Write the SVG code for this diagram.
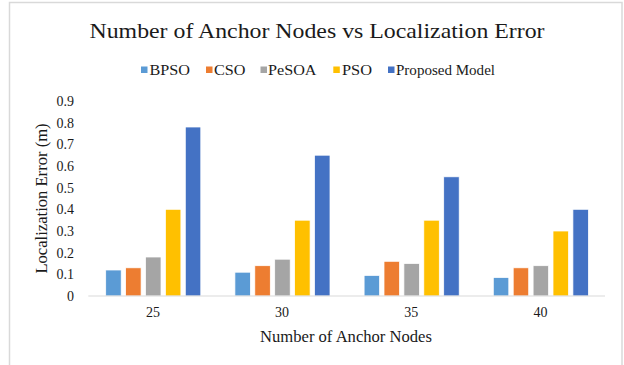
<svg xmlns="http://www.w3.org/2000/svg" width="624" height="365" viewBox="0 0 624 365">
<style>
text{font-family:"Liberation Serif","Times New Roman",serif;fill:#1a1a1a}
.tick{font-size:14px;text-anchor:end}
.xt{font-size:14px;text-anchor:middle}
.lg{font-size:14.5px}
.b{stroke:#ffffff;stroke-width:0.75}
.c1{fill:#5B9BD5}.c2{fill:#ED7D31}.c3{fill:#A5A5A5}.c4{fill:#FFC000}.c5{fill:#4472C4}
</style>
<rect x="9.5" y="2.5" width="612.5" height="370" fill="#ffffff" stroke="#d9d9d9" stroke-width="1.5"/>
<g id="title"><text x="317" y="38" font-size="22" text-anchor="middle" textLength="455" lengthAdjust="spacingAndGlyphs">Number of Anchor Nodes vs Localization Error</text></g>
<g id="legend">
<rect class="c1" x="141" y="66.5" width="6.5" height="6.5"/><text class="lg" x="149.5" y="74.5" textLength="40.5" lengthAdjust="spacingAndGlyphs">BPSO</text>
<rect class="c2" x="206" y="66.5" width="6.5" height="6.5"/><text class="lg" x="214" y="74.5" textLength="31.5" lengthAdjust="spacingAndGlyphs">CSO</text>
<rect class="c3" x="260.5" y="66.5" width="6.5" height="6.5"/><text class="lg" x="268" y="74.5" textLength="48.5" lengthAdjust="spacingAndGlyphs">PeSOA</text>
<rect class="c4" x="333.3" y="66.5" width="6.5" height="6.5"/><text class="lg" x="342" y="74.5" textLength="30" lengthAdjust="spacingAndGlyphs">PSO</text>
<rect class="c5" x="388" y="66.5" width="6.5" height="6.5"/><text class="lg" x="396" y="74.5" textLength="99" lengthAdjust="spacingAndGlyphs">Proposed Model</text>
</g>
<g id="y-axis">
<text class="tick" x="74" y="301">0</text>
<text class="tick" x="74" y="279.3">0.1</text>
<text class="tick" x="74" y="257.7">0.2</text>
<text class="tick" x="74" y="236">0.3</text>
<text class="tick" x="74" y="214.3">0.4</text>
<text class="tick" x="74" y="192.7">0.5</text>
<text class="tick" x="74" y="171">0.6</text>
<text class="tick" x="74" y="149.3">0.7</text>
<text class="tick" x="74" y="127.7">0.8</text>
<text class="tick" x="74" y="106">0.9</text>
<text x="0" y="0" font-size="16.6" text-anchor="middle" transform="translate(47,198.5) rotate(-90)">Localization Error (m)</text>
</g>
<g id="bars-25">
<rect class="b c1" x="105.7" y="270" width="15.5" height="26"/>
<rect class="b c2" x="125.6" y="267.8" width="15.5" height="28.2"/>
<rect class="b c3" x="145.5" y="257" width="15.5" height="39"/>
<rect class="b c4" x="165.4" y="209.3" width="15.5" height="86.7"/>
<rect class="b c5" x="185.3" y="127" width="15.5" height="169"/>
</g>
<g id="bars-30">
<rect class="b c1" x="234.9" y="272.2" width="15.5" height="23.8"/>
<rect class="b c2" x="254.8" y="265.7" width="15.5" height="30.3"/>
<rect class="b c3" x="274.7" y="259.2" width="15.5" height="36.8"/>
<rect class="b c4" x="294.6" y="220.2" width="15.5" height="75.8"/>
<rect class="b c5" x="314.5" y="155.2" width="15.5" height="140.8"/>
</g>
<g id="bars-35">
<rect class="b c1" x="364.1" y="275.4" width="15.5" height="20.6"/>
<rect class="b c2" x="384" y="261.3" width="15.5" height="34.7"/>
<rect class="b c3" x="403.9" y="263.5" width="15.5" height="32.5"/>
<rect class="b c4" x="423.8" y="220.2" width="15.5" height="75.8"/>
<rect class="b c5" x="443.7" y="176.8" width="15.5" height="119.2"/>
</g>
<g id="bars-40">
<rect class="b c1" x="493.3" y="277.5" width="15.5" height="18.5"/>
<rect class="b c2" x="513.2" y="267.8" width="15.5" height="28.2"/>
<rect class="b c3" x="533.1" y="265.7" width="15.5" height="30.3"/>
<rect class="b c4" x="553" y="231" width="15.5" height="65"/>
<rect class="b c5" x="572.9" y="209.3" width="15.5" height="86.7"/>
</g>
<g id="x-axis">
<line x1="88.3" y1="296" x2="605" y2="296" stroke="#d9d9d9" stroke-width="1.2"/>
<text class="xt" x="152.9" y="317">25</text>
<text class="xt" x="282.1" y="317">30</text>
<text class="xt" x="411.3" y="317">35</text>
<text class="xt" x="540.5" y="317">40</text>
<text x="346" y="342" font-size="16.6" text-anchor="middle">Number of Anchor Nodes</text>
</g>
</svg>
